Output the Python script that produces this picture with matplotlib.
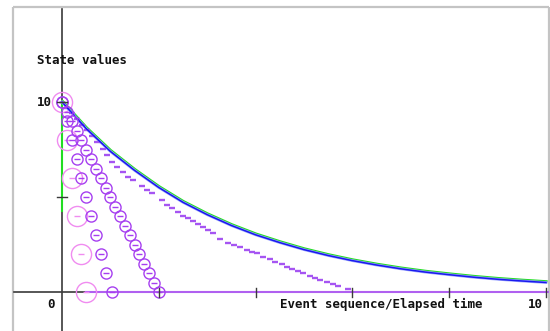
import matplotlib
matplotlib.use("Agg")
import matplotlib.pyplot as plt
import matplotlib.transforms as mtransforms
import numpy as np

# ---------------- data ----------------
# deterministic decay curve (blue) and its simulated twin (green)
curve_t = [0, 0.5, 1.0, 1.5, 2.0, 2.5, 3.0, 3.5, 4.0, 4.5, 5.0, 5.5, 6.0, 6.5,
           7.0, 7.5, 8.0, 8.5, 9.0, 9.5, 10.0]
curve_v = [10, 8.6, 7.4, 6.4, 5.5, 4.72, 4.07, 3.5, 3.01, 2.6, 2.23, 1.92, 1.65,
           1.42, 1.22, 1.05, 0.91, 0.78, 0.67, 0.58, 0.5]
green_bar = [4.25, 10]          # green vertical segment at t = 0

# stepwise (dashed) stochastic run: dash positions
dash_t = [0.10, 0.21, 0.31, 0.41, 0.52, 0.62, 0.72, 0.85, 0.93, 1.03, 1.14, 1.26,
          1.36, 1.47, 1.65, 1.76, 1.86, 2.07, 2.17, 2.27, 2.40, 2.50, 2.60, 2.71,
          2.81, 2.91, 3.02, 3.12, 3.26, 3.43, 3.55, 3.68, 3.82, 3.93, 4.03, 4.15,
          4.30, 4.40, 4.55, 4.65, 4.75, 4.88, 4.98, 5.12, 5.23, 5.33, 5.48, 5.60,
          5.70, 5.91]
dash_v = [9.68, 9.42, 9.11, 8.79, 8.53, 8.21, 7.89, 7.53, 7.21, 6.84, 6.58, 6.32,
          6.05, 5.89, 5.58, 5.37, 5.21, 4.84, 4.58, 4.42, 4.21, 4.00, 3.89, 3.74,
          3.58, 3.42, 3.26, 3.11, 2.79, 2.58, 2.50, 2.37, 2.21, 2.11, 2.05, 1.84,
          1.74, 1.58, 1.47, 1.32, 1.21, 1.11, 1.00, 0.84, 0.74, 0.63, 0.53, 0.42,
          0.32, 0.16]

# circle event series
chainA_t = [0.0, 0.1, 0.2, 0.3, 0.4, 0.5, 0.6, 0.7, 0.8, 0.9, 1.0,
            1.1, 1.2, 1.3, 1.4, 1.5, 1.6, 1.7, 1.8, 1.9, 2.0]
chainA_v = [10, 9.5, 9, 8.5, 8, 7.5, 7, 6.5, 6, 5.5, 5,
            4.5, 4, 3.5, 3, 2.5, 2, 1.5, 1, 0.5, 0]
chainB_t = [0.0, 0.1, 0.2, 0.3, 0.4, 0.5, 0.6, 0.7, 0.8, 0.9, 1.03]
chainB_v = [10, 9, 8, 7, 6, 5, 4, 3, 2, 1, 0]
chainC_t = [0.0, 0.1, 0.2, 0.3, 0.4, 0.5]
chainC_v = [10, 8, 6, 4, 2, 0]

xticks = [2, 4, 6, 8, 10]
yticks = [5, 10]

# ---------------- layout ----------------
W, H = 550, 331
X0, PXU = 62, 48.4        # pixel of t=0, pixels per t-unit
Y0, PYU = 292, 19.0       # pixel of v=0, pixels per v-unit

fig = plt.figure(figsize=(W / 100, H / 100), dpi=100)
ax = fig.add_axes([0, 0, 1, 1])
ax.set_xlim(-X0 / PXU, (W - X0) / PXU)
ax.set_ylim(-(H - Y0) / PYU, Y0 / PYU)
ax.axis("off")

def px(x):  # pixel -> data x
    return (x - X0) / PXU

def py(y):  # pixel -> data y
    return (Y0 - y) / PYU

# window frame
frame = "#c4c4c4"
ax.plot([px(13), px(13)], [py(7), py(H + 5)], color=frame, lw=1.6, solid_capstyle="butt")
ax.plot([px(549), px(549)], [py(7), py(H + 5)], color=frame, lw=1.6, solid_capstyle="butt")
ax.plot([px(13), px(549)], [py(7), py(7)], color=frame, lw=1.6, solid_capstyle="butt")

# axes lines
axc = "#3a3a3a"
ax.plot([0, 0], [py(9), py(H + 5)], color=axc, lw=1.2, zorder=2)
ax.plot([px(14), px(548)], [0, 0], color=axc, lw=1.2, zorder=2)
for t in xticks:
    ax.plot([t, t], [py(288), py(297)], color=axc, lw=1.0, zorder=6)
for v in yticks:
    ax.plot([px(57), px(67)], [v, v], color=axc, lw=1.0, zorder=6)

# purple baseline
ax.plot([chainC_t[-1], 10.05], [0, 0], color="#b060f0", lw=1.5, zorder=3)

# green vertical segment and curves
ax.plot([0, 0], green_bar, color="#22dd22", lw=1.5, zorder=3)
off = mtransforms.offset_copy(ax.transData, fig=fig, x=0.5, y=1.2, units="dots")
ax.plot(curve_t, curve_v, color="#22dd22", lw=1.6, zorder=4, transform=off)
ax.plot(curve_t, curve_v, color="#9fa8ff", lw=2.0, zorder=4)
ax.plot(curve_t, curve_v, color="#1a1aee", lw=1.1, zorder=5)

# dashed staircase
ax.hlines(dash_v, np.array(dash_t) - 0.06, np.array(dash_t) + 0.06,
          color="#a655f2", lw=1.7, zorder=4)

# circle series
pink = "#f08cf0"
purple = "#a63ff0"
ax.plot(chainC_t, chainC_v, ls="none", marker="o", ms=14.5, mfc="none",
        mec=pink, mew=1.0, zorder=3)
ax.plot(chainC_t, chainC_v, ls="none", marker="_", ms=4, mec=pink, mew=1.0, zorder=3)
for tt, vv in ((chainB_t, chainB_v), (chainA_t, chainA_v)):
    ax.plot(tt, vv, ls="none", marker="o", ms=8.0, mfc="none",
            mec=purple, mew=1.0, zorder=5)
    ax.plot(tt, vv, ls="none", marker="_", ms=4, mec=purple, mew=1.0, zorder=5)

# text
fkw = dict(family="DejaVu Sans Mono", fontweight="bold", fontsize=9, color="#111111")
ax.text(px(37), py(60), "State values", ha="left", va="center", **fkw)
ax.text(px(37), py(102), "10", ha="left", va="center", **fkw)
ax.text(px(47), py(304), "0", ha="left", va="center", **fkw)
ax.text(px(280), py(304), "Event sequence/Elapsed time", ha="left", va="center", **fkw)
ax.text(px(528), py(304), "10", ha="left", va="center", **fkw)

fig.savefig("out.png", dpi=100)
